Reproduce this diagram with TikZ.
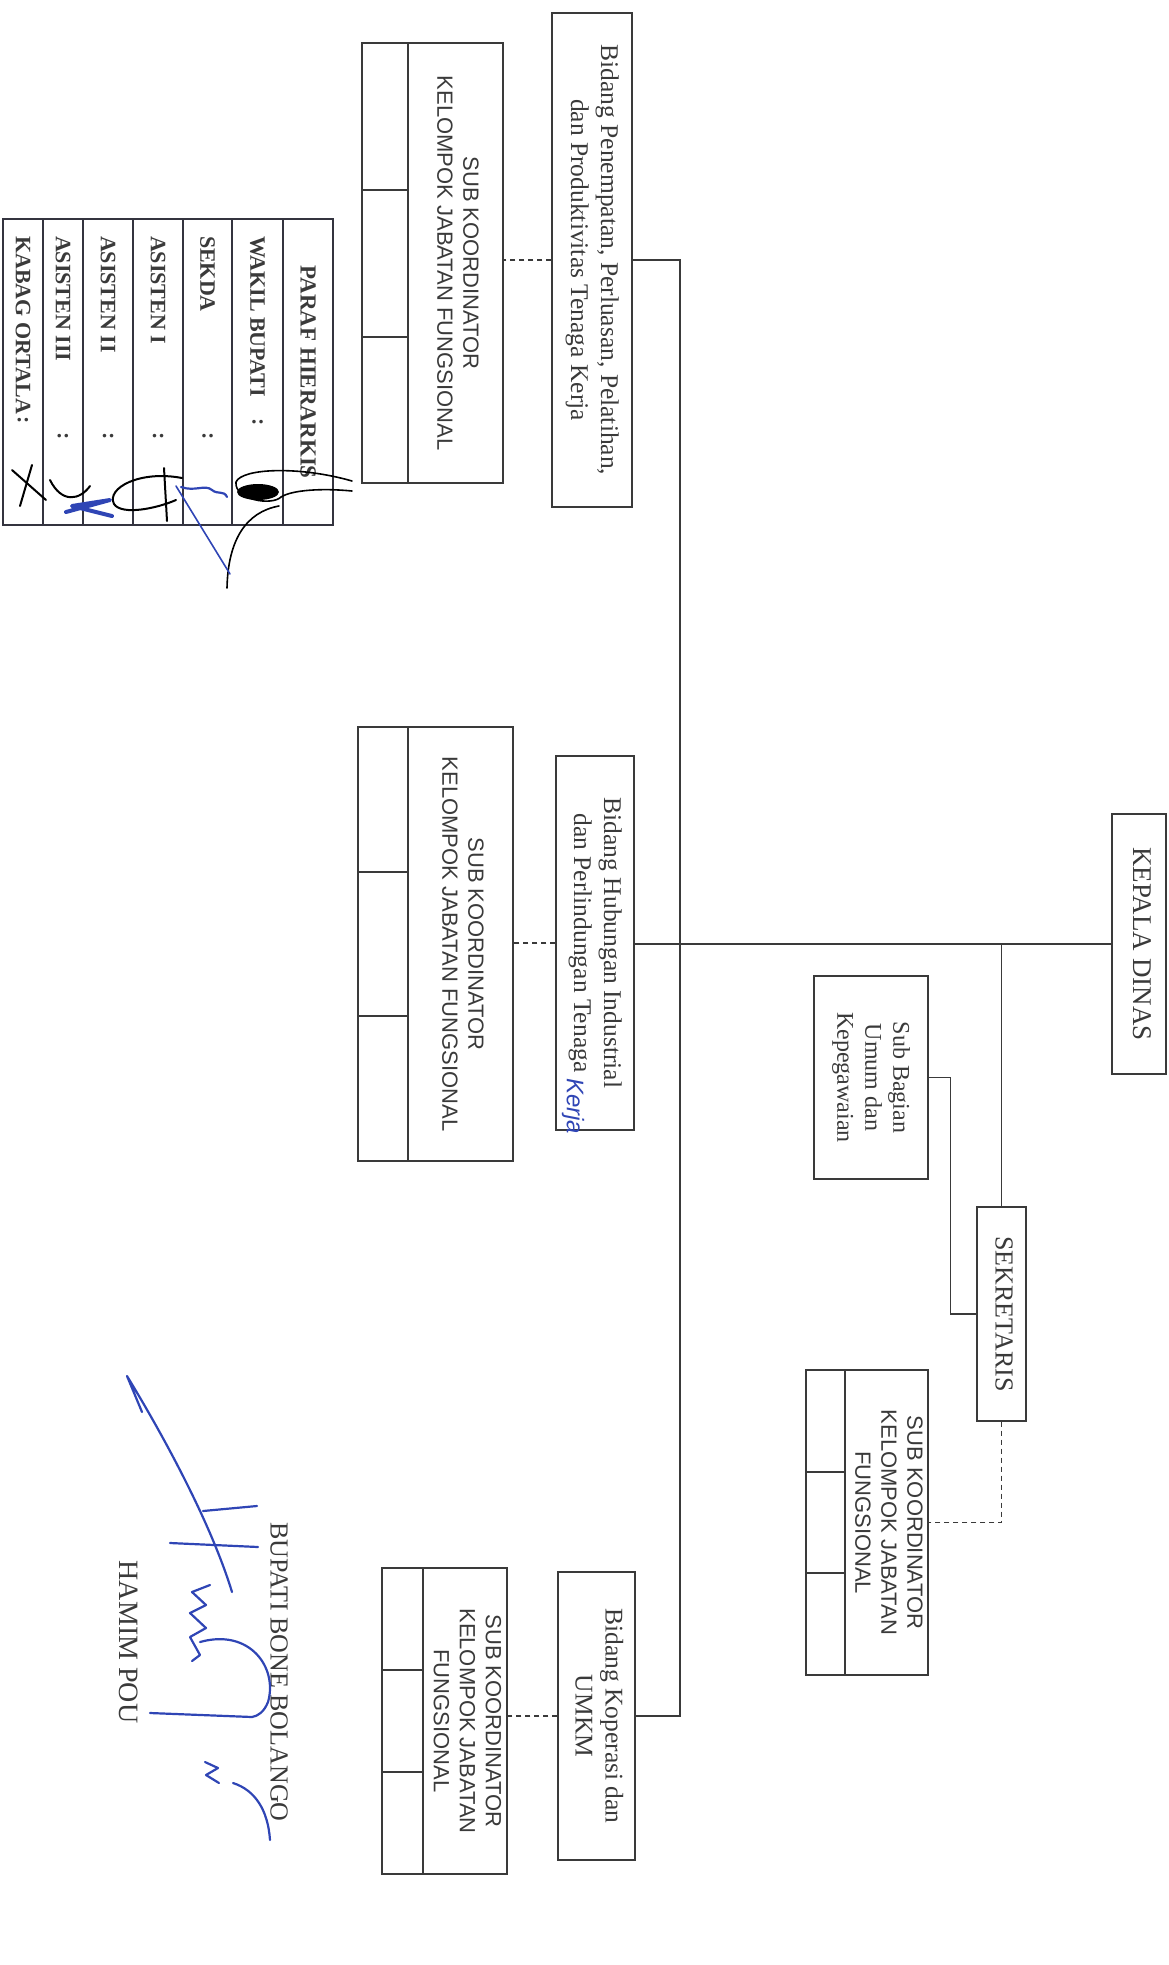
\documentclass[tikz,border=0pt]{standalone}
\usepackage{fontspec}
\setmainfont{Liberation Serif}
\setsansfont{Liberation Sans}
\usepackage{graphicx}
\usepackage{xcolor}
\usetikzlibrary{positioning,fit,calc}
\definecolor{ink}{HTML}{3A3A3A}
\definecolor{frame}{HTML}{34343F}
\definecolor{pen}{HTML}{2F45B5}
\newcommand{\vtext}[1]{\rotatebox{-90}{\begin{tabular}{@{}c@{}}#1\end{tabular}}}

\begin{document}
\begin{tikzpicture}[x=1pt, y=-1pt, link/.style={draw=ink, line width=1.4pt}, koord/.style={draw=ink, line width=1.4pt, dash pattern=on 5pt off 4pt}]
	\tikzset{unit/.style={draw=ink, line width=1.2pt, rectangle, inner sep=0pt, text=ink, text centered, font=\fontsize{25.5}{30}\selectfont}}
	\tikzset{sub/.style={unit, font=\sffamily\fontsize{22}{26}\selectfont}}
	\tikzset{cell/.style={draw=ink, line width=1.2pt, rectangle, inner sep=0pt}}
	\tikzset{paraf/.style={draw=frame, line width=2.4pt, rectangle, inner sep=0pt, text=ink, font=\bfseries\fontsize{23}{26}\selectfont}}
	\tikzset{paraftx/.style={anchor=north, inner sep=0pt, text=ink, font=\bfseries\fontsize{22}{26}\selectfont}}
	\tikzset{sign/.style={draw=pen, line width=2.2pt, line cap=round, line join=round}}

	\useasboundingbox (0,0) rectangle (1169,1965);

	% kepala dan sekretariat
	\node[unit, fit={(1112,814) (1166,1074)}, font=\fontsize{27}{30}\selectfont] (kepala) {\vtext{KEPALA DINAS}};
	\node[unit, fit={(977,1207) (1026,1421)}, font=\fontsize{26}{30}\selectfont] (sekretaris) {\vtext{SEKRETARIS}};
	\node[unit, fit={(814,976) (928,1179)}, font=\fontsize{24}{28}\selectfont] (subbag) {\vtext{Sub Bagian\\Umum dan\\Kepegawaian}};
	\node[sub, fit={(845,1370) (928,1675)}] (subsek) {\vtext{SUB KOORDINATOR\\KELOMPOK JABATAN\\FUNGSIONAL}};
	\node[cell, fit={(806,1370) (845,1472)}] (subsek1) {};
	\node[cell, fit={(806,1472) (845,1573)}] (subsek2) {};
	\node[cell, fit={(806,1573) (845,1675)}] (subsek3) {};

	% bidang
	\node[unit, fit={(552,13) (632,507)}] (penempatan) {\vtext{Bidang Penempatan, Perluasan, Pelatihan,\\dan Produktivitas Tenaga Kerja}};
	\node[sub, fit={(408,43) (503,483)}] (subpen) {\vtext{SUB KOORDINATOR\\KELOMPOK JABATAN FUNGSIONAL}};
	\node[cell, fit={(362,43) (408,190)}] (subpen1) {};
	\node[cell, fit={(362,190) (408,337)}] (subpen2) {};
	\node[cell, fit={(362,337) (408,483)}] (subpen3) {};

	\node[unit, fit={(556,756) (634,1130)}] (hubungan) {\vtext{Bidang Hubungan Industrial\\dan Perlindungan Tenaga}};
	\node[text=pen, inner sep=0pt, font=\sffamily\itshape\fontsize{24}{26}\selectfont] (kerja) at (573,1106) {\rotatebox{-90}{Kerja}};
	\node[sub, fit={(408,727) (513,1161)}] (subhub) {\vtext{SUB KOORDINATOR\\KELOMPOK JABATAN FUNGSIONAL}};
	\node[cell, fit={(358,727) (408,872)}] (subhub1) {};
	\node[cell, fit={(358,872) (408,1016)}] (subhub2) {};
	\node[cell, fit={(358,1016) (408,1161)}] (subhub3) {};

	\node[unit, fit={(558,1572) (635,1860)}] (umkm) {\vtext{Bidang Koperasi dan\\UMKM}};
	\node[sub, fit={(423,1568) (507,1874)}] (subumkm) {\vtext{SUB KOORDINATOR\\KELOMPOK JABATAN\\FUNGSIONAL}};
	\node[cell, fit={(382,1568) (423,1670)}] (subumkm1) {};
	\node[cell, fit={(382,1670) (423,1772)}] (subumkm2) {};
	\node[cell, fit={(382,1772) (423,1874)}] (subumkm3) {};

	% garis komando
	\coordinate (trunk) at (680,944);
	\draw[link] (kepala.west) -- (kepala.west -| hubungan.east);
	\draw[link] (penempatan.east) -| (trunk) |- (umkm.east);
	\draw[link] (kepala.west -| sekretaris.north) -- (sekretaris.north);
	\draw[link] (subbag.east) -- ++(22,0) |- (sekretaris.west);

	% garis koordinasi
	\draw[koord] (sekretaris.south) |- (subsek.east);
	\draw[koord] (penempatan.west) -- (penempatan.west -| subpen.east);
	\draw[koord] (hubungan.west) -- (hubungan.west -| subhub.east);
	\draw[koord] (umkm.west) -- (umkm.west -| subumkm.east);

	% paraf hierarkis
	\node[paraf, fit={(283,219) (333,525)}] (hierarkis) {\rotatebox{-90}{PARAF HIERARKIS}};
	\node[paraf, fit={(232,219) (283,525)}] (wakil) {};
	\node[paraf, fit={(183,219) (232,525)}] (sekda) {};
	\node[paraf, fit={(133,219) (183,525)}] (asisten1) {};
	\node[paraf, fit={(83,219) (133,525)}] (asisten2) {};
	\node[paraf, fit={(43,219) (83,525)}] (asisten3) {};
	\node[paraf, fit={(3,219) (43,525)}] (kabag) {};

	\node[paraftx] (wakiltx) at ($(wakil.north)+(0,18)$) {\rotatebox{-90}{WAKIL BUPATI}};
	\node[paraftx] (sekdatx) at ($(sekda.north)+(0,18)$) {\rotatebox{-90}{SEKDA}};
	\node[paraftx] (asisten1tx) at ($(asisten1.north)+(0,18)$) {\rotatebox{-90}{ASISTEN I}};
	\node[paraftx] (asisten2tx) at ($(asisten2.north)+(0,18)$) {\rotatebox{-90}{ASISTEN II}};
	\node[paraftx] (asisten3tx) at ($(asisten3.north)+(0,18)$) {\rotatebox{-90}{ASISTEN III}};
	\node[paraftx] (kabagtx) at ($(kabag.north)+(0,18)$) {\rotatebox{-90}{KABAG ORTALA}};
	\node[paraftx] (wakilc) at ($(wakil.north)+(0,200)$) {\rotatebox{-90}{:}};
	\node[paraftx] (sekdac) at ($(sekda.north)+(0,214)$) {\rotatebox{-90}{:}};
	\node[paraftx] (asisten1c) at ($(asisten1.north)+(0,214)$) {\rotatebox{-90}{:}};
	\node[paraftx] (asisten2c) at ($(asisten2.north)+(0,214)$) {\rotatebox{-90}{:}};
	\node[paraftx] (asisten3c) at ($(asisten3.north)+(0,214)$) {\rotatebox{-90}{:}};
	\node[paraftx] (kabagc) at ($(kabag.north)+(0,198)$) {\rotatebox{-90}{:}};

	% paraf coretan
	\draw[sign, draw=black, line width=1.6pt] (352,481) .. controls (300,466) and (242,468) .. (236,482) .. controls (234,500) and (272,506) .. (281,497) .. controls (292,490) and (322,488) .. (352,491);
	\fill[black] (258,492) ellipse (21pt and 8pt);
	\draw[sign, draw=black, line width=1.6pt] (279,506) .. controls (246,512) and (228,540) .. (227,588);
	\draw[sign, line width=1.6pt] (176,486) -- (230,574);
	\draw[sign] (181,487) .. controls (195,492) and (205,484) .. (212,490) .. controls (218,495) and (224,490) .. (227,497);
	\draw[sign, draw=black, line width=2pt] (164,468) -- (167,521);
	\draw[sign, draw=black, line width=2pt] (182,478) .. controls (140,470) and (106,488) .. (114,504) .. controls (122,516) and (158,508) .. (176,500);
	\draw[sign, line width=4pt] (66,512) -- (110,500) -- (72,506) -- (112,516);
	\draw[sign, draw=black, line width=2pt] (12,470) -- (46,500);
	\draw[sign, draw=black, line width=2pt] (32,465) -- (20,506);
	\draw[sign, draw=black, line width=2pt] (50,480) .. controls (62,504) and (80,500) .. (90,486);

	% pengesahan
	\node[inner sep=0pt, text=ink, font=\fontsize{26}{30}\selectfont] (bupati) at (279,1672) {\rotatebox{-90}{BUPATI BONE BOLANGO}};
	\node[inner sep=0pt, text=ink, font=\fontsize{28}{32}\selectfont] (hamim) at (129,1642) {\rotatebox{-90}{HAMIM POU}};

	\draw[sign] (142,1412) -- (127,1376) .. controls (160,1430) and (210,1520) .. (232,1592);
	\draw[sign] (203,1511) -- (257,1506);
	\draw[sign] (170,1543) -- (258,1547);
	\draw[sign] (210,1585) -- (192,1592) -- (206,1605) -- (190,1613) -- (206,1628) -- (190,1637) -- (200,1655) -- (192,1661);
	\draw[sign] (200,1642) .. controls (250,1628) and (278,1668) .. (268,1702) .. controls (264,1712) and (258,1716) .. (252,1717) -- (150,1713);
	\draw[sign] (205,1762) -- (218,1768) -- (206,1775) -- (219,1783);
	\draw[sign] (233,1783) .. controls (255,1790) and (268,1810) .. (270,1840);
\end{tikzpicture}
\end{document}
